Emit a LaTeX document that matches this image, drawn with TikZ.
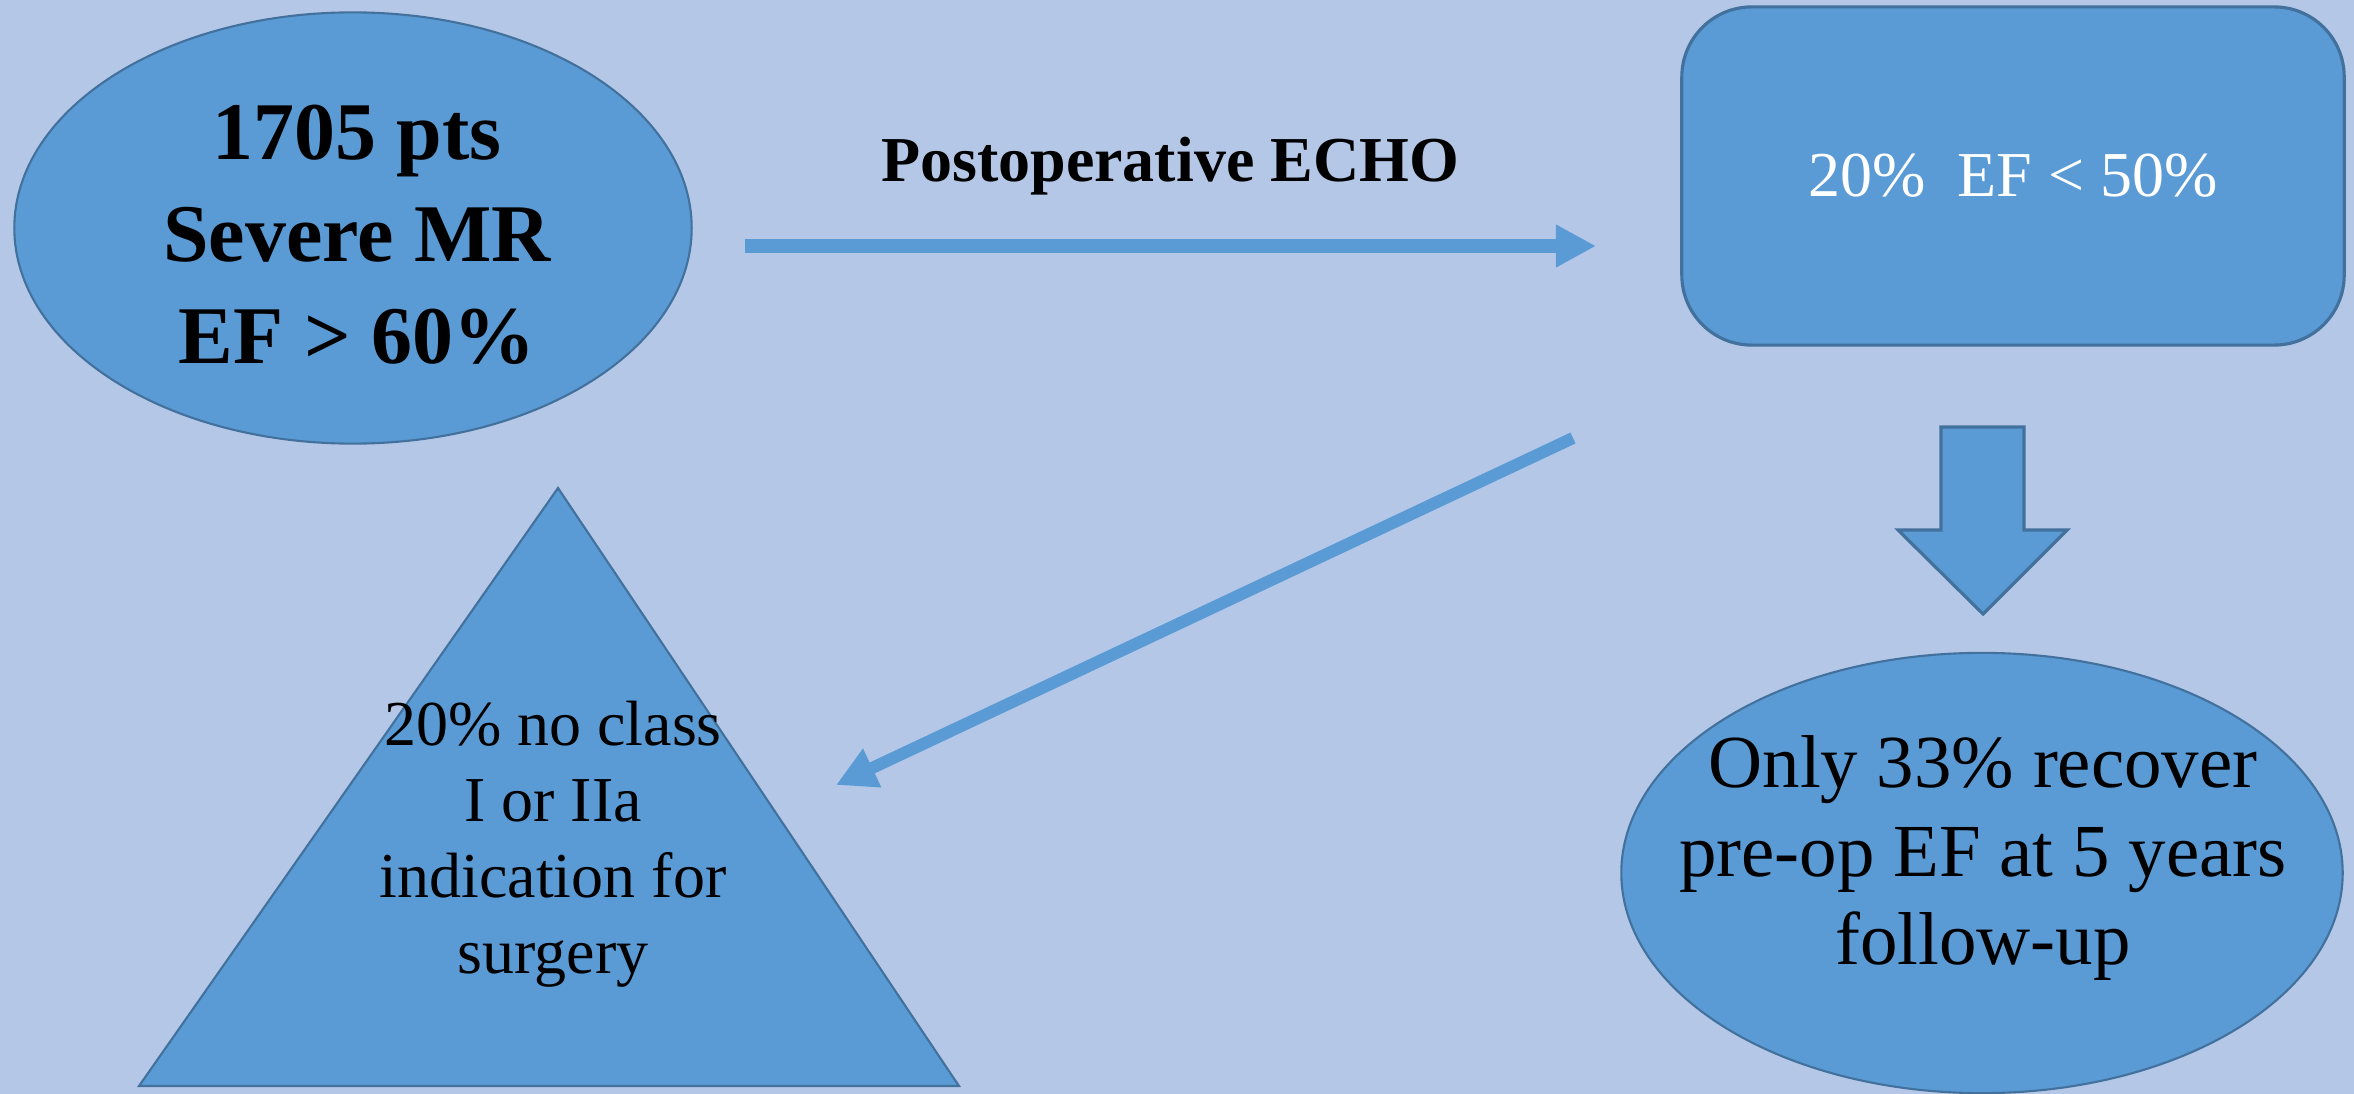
\documentclass[tikz,border=0pt]{standalone}
\usepackage{fontspec}
\setmainfont{Liberation Serif}
\usetikzlibrary{shapes.geometric,arrows.meta}
\definecolor{bgblue}{HTML}{B4C7E7}
\definecolor{shapeblue}{HTML}{5B9BD5}
\definecolor{edgeblue}{HTML}{41719C}
\begin{document}
\begin{tikzpicture}[x=0.01cm,y=-0.01cm,blob/.style={ellipse,draw=edgeblue,fill=shapeblue,line width=0.6pt,inner sep=0pt},box/.style={rectangle,rounded corners=0.7cm,draw=edgeblue,fill=shapeblue,line width=0.9pt,inner sep=0pt,align=center},txt/.style={inner sep=0pt,align=center},link/.style={draw=shapeblue,line width=0.13cm,-{Triangle[length=0.4cm,width=0.4cm]}}]
\fill[bgblue] (0,0) rectangle (2354,1094); \useasboundingbox (0,0) rectangle (2354,1094);
\node[blob,minimum width=6.77cm,minimum height=4.31cm] (pts) at (353,228) {};
\node[txt,font=\fontsize{23.3}{29}\selectfont\bfseries] (ptstxt) at (357,235) {1705 pts\\Severe MR\\EF > 60\%};
\node[box,minimum width=6.62cm,minimum height=3.38cm,text=white,font=\fontsize{18.2}{22}\selectfont] (low) at (2013,176) {20\%\ \ EF < 50\%};
\node[txt,anchor=base,font=\fontsize{18.2}{22}\selectfont\bfseries] (echo) at (1170,182) {Postoperative ECHO};
\coordinate (h1) at (745,246); \coordinate (h2) at (1596,246); \draw[link] (h1) -- (h2);
\coordinate (d1) at (1573,438); \coordinate (d2) at (836,785); \draw[link,line width=0.12cm] (d1) -- (d2);
\draw[draw=edgeblue,fill=shapeblue,line width=0.6pt] (558,488) -- (959,1086) -- (139,1086) -- cycle;
\node[txt,font=\fontsize{18.2}{21.6}\selectfont] (noind) at (553,844) {20\% no class\\I or IIa\\indication for\\surgery};
\draw[draw=edgeblue,fill=shapeblue,line width=0.9pt] (1941,427) -- (2024,427) -- (2024,530) -- (2067,530) -- (1983,614) -- (1898,530) -- (1941,530) -- cycle;
\node[blob,minimum width=7.21cm,minimum height=4.40cm] (recover) at (1982,873) {};
\node[txt,font=\fontsize{21.3}{25.3}\selectfont] (recovertxt) at (1983,858) {Only 33\% recover\\pre-op EF at 5 years\\follow-up};
\end{tikzpicture}
\end{document}
